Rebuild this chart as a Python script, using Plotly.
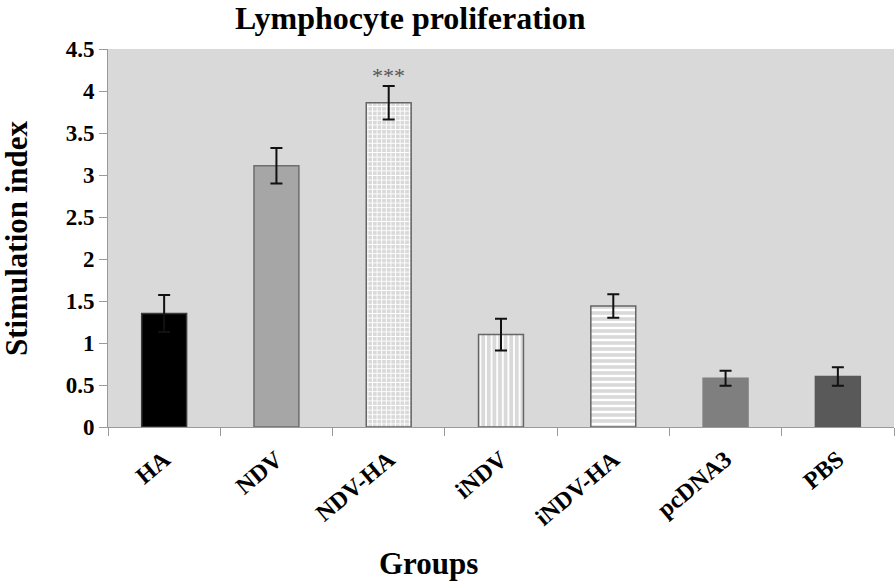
import plotly.graph_objects as go

groups = ["HA", "NDV", "NDV-HA", "iNDV", "iNDV-HA", "pcDNA3", "PBS"]
stim_index = [1.35, 3.11, 3.86, 1.10, 1.44, 0.58, 0.60]
errors = [0.22, 0.21, 0.20, 0.19, 0.14, 0.09, 0.11]
y_ticks = [0, 0.5, 1, 1.5, 2, 2.5, 3, 3.5, 4, 4.5]

fill_colors = ["#000000", "#a6a6a6", "#ffffff", "#ffffff", "#ffffff", "#7f7f7f", "#595959"]
pattern_shapes = ["", "", "+", "|", "-", "", ""]
pattern_sizes = [6, 6, 4.6, 5.6, 6, 6, 6]
pattern_solidity = [0.3, 0.3, 0.36, 0.32, 0.4, 0.3, 0.3]
line_colors = ["#3a3a3a", "#6e6e6e", "#666666", "#666666", "#666666", "#7f7f7f", "#595959"]

SERIF = "Liberation Serif, Times New Roman, serif"

fig = go.Figure()
fig.add_trace(go.Bar(
    x=groups,
    y=stim_index,
    width=0.4,
    marker=dict(
        color=fill_colors,
        line=dict(color=line_colors, width=1.5),
        pattern=dict(shape=pattern_shapes, fgcolor="#5c5c5c", bgcolor="#ffffff",
                     size=pattern_sizes, solidity=pattern_solidity,
                     fillmode="replace"),
    ),
    error_y=dict(type="data", array=errors, visible=True, color="#111111",
                 thickness=2, width=6),
    showlegend=False,
))

fig.add_annotation(x="NDV-HA", y=4.18, text="***", showarrow=False,
                   font=dict(family=SERIF, size=22, color="#555555"))

fig.add_annotation(xref="paper", yref="paper", x=0.385, y=1.082,
                   xanchor="center", yanchor="middle",
                   text="<b>Lymphocyte proliferation</b>", showarrow=False,
                   font=dict(family=SERIF, size=32, color="#000000"))

fig.add_annotation(xref="paper", yref="paper", x=0.408, y=-0.36,
                   xanchor="center", yanchor="middle",
                   text="<b>Groups</b>", showarrow=False,
                   font=dict(family=SERIF, size=31, color="#000000"))

fig.add_annotation(xref="paper", yref="paper", x=-0.117, y=0.5,
                   xanchor="center", yanchor="middle", textangle=-90,
                   text="<b>Stimulation index</b>", showarrow=False,
                   font=dict(family=SERIF, size=31, color="#000000"))

fig.update_layout(
    width=896, height=583,
    margin=dict(l=108, r=2, t=49, b=156),
    paper_bgcolor="#ffffff",
    plot_bgcolor="#d9d9d9",
    bargap=0.6,
    font=dict(family=SERIF, color="#000000"),
)

fig.update_xaxes(
    type="category",
    automargin=False,
    tickangle=-40,
    ticklabelstandoff=8,
    tickfont=dict(family=SERIF, size=24, color="#000000", weight="bold"),
    ticks="outside", tickson="boundaries", ticklen=8, tickcolor="#9a9a9a",
    showline=True, linecolor="#9a9a9a", linewidth=1,
    showgrid=False,
)

fig.update_yaxes(
    automargin=False,
    range=[0, 4.5],
    tickvals=y_ticks,
    tickfont=dict(family=SERIF, size=23, color="#000000", weight="bold"),
    ticks="outside", ticklen=8, tickcolor="#9a9a9a",
    showline=True, linecolor="#9a9a9a", linewidth=1,
    showgrid=False, zeroline=False,
)

fig.write_html("out.html",
               config={"displayModeBar": False},
               post_script="document.body.style.margin='0';document.body.style.padding='0';")
